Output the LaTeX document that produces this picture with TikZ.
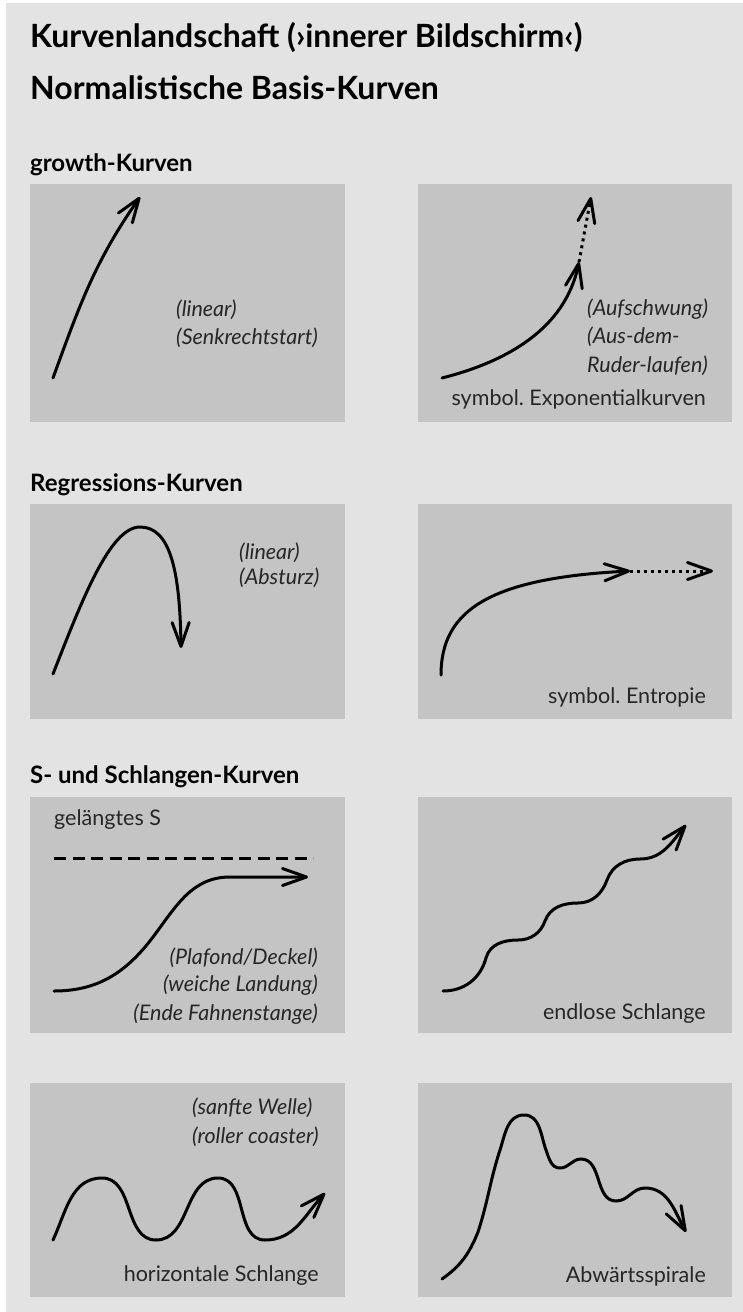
\documentclass[tikz,border=0pt]{standalone}
\usepackage{fontspec}
\setmainfont{Lato}
\usetikzlibrary{arrows.meta}
\frenchspacing
\definecolor{pagegray}{HTML}{E3E3E3}
\definecolor{boxgray}{HTML}{C4C4C4}
\definecolor{inkgray}{HTML}{262626}
\tikzset{
  kurve/.style={line width=3pt, line cap=round,
    -{Straight Barb[length=24pt,width=17pt,line cap=round,line join=round]}},
  punktkurve/.style={kurve, line cap=butt, dash pattern=on 3pt off 4pt},
  kasten/.style={fill=boxgray},
  titel/.style={font=\bfseries\fontsize{32}{36}\selectfont, anchor=west, inner sep=0pt},
  rubrik/.style={font=\bfseries\fontsize{24}{28}\selectfont, anchor=west, inner sep=0pt},
  notiz/.style={font=\itshape\fontsize{21.5}{25}\selectfont, text=inkgray, inner sep=0pt},
  unterschrift/.style={font=\fontsize{21.5}{25}\selectfont, text=inkgray, anchor=east, inner sep=0pt},
}
\begin{document}
\begin{tikzpicture}[x=1pt,y=1pt]
\fill[white] (0,0) rectangle (743,-1312);
\fill[pagegray] (6,-3) rectangle (743,-1312);

% Ueberschriften
\node[titel] (t1) at (30,-37) {Kurvenlandschaft (›innerer Bildschirm‹)};
\node[titel] (t2) at (30,-88) {Normalistische Basis-Kurven};

% growth-Kurven
\node[rubrik] (r1) at (30,-165) {growth-Kurven};
\fill[kasten] (30,-184) rectangle (345,-422);
\fill[kasten] (418,-184) rectangle (732,-422);
\draw[kurve] (53,-378) to[out=70,in=235] (140,-197);
\node[notiz,anchor=west] (n1) at (176,-310) {(linear)};
\node[notiz,anchor=west] (n2) at (176,-338) {(Senkrechtstart)};
\draw[kurve] (442,-378) .. controls (505,-362) and (565,-330) .. (579,-262);
\draw[punktkurve] (579,-262) -- (591,-197);
\node[notiz,anchor=west] (n3) at (587,-309) {(Aufschwung)};
\node[notiz,anchor=west] (n4) at (587,-337) {(Aus-dem-};
\node[notiz,anchor=west] (n5) at (587,-366) {Ruder-laufen)};
\node[unterschrift] (u1) at (706,-399) {symbol. Exponentialkurven};

% Regressions-Kurven
\node[rubrik] (r2) at (30,-485) {Regressions-Kurven};
\fill[kasten] (30,-504) rectangle (345,-719);
\fill[kasten] (418,-504) rectangle (732,-719);
\draw[kurve] (53,-674) .. controls (82,-600) and (110,-527) .. (140,-527)
  .. controls (170,-527) and (180,-570) .. (181,-648);
\node[notiz,anchor=west] (n6) at (239,-553) {(linear)};
\node[notiz,anchor=west] (n7) at (239,-578) {(Absturz)};
\draw[kurve] (441,-675) .. controls (441,-610) and (490,-578) .. (630,-571);
\draw[punktkurve] (630,-571) -- (713,-571);
\node[unterschrift] (u2) at (706,-697) {symbol. Entropie};

% S- und Schlangen-Kurven
\node[rubrik] (r3) at (30,-777) {S- und Schlangen-Kurven};
\fill[kasten] (30,-797) rectangle (345,-1033);
\fill[kasten] (418,-797) rectangle (732,-1033);
\node[unterschrift,anchor=west] (u3) at (54,-820) {gelängtes S};
\draw[line width=3pt, dash pattern=on 12pt off 6.5pt] (54,-858) -- (313,-858);
\draw[kurve] (54,-991) to[out=0,in=233] (153,-937) to[out=53,in=180] (230,-877) -- (308,-877);
\node[notiz,anchor=east] (n8) at (318,-958) {(Plafond/Deckel)};
\node[notiz,anchor=east] (n9) at (318,-985) {(weiche Landung)};
\node[notiz,anchor=east] (n10) at (318,-1014) {(Ende Fahnenstange)};
\draw[kurve] (443,-991) to[out=0,in=255] (486,-958) to[out=75,in=180] (518,-940)
  to[out=0,in=250] (545,-921) to[out=70,in=180] (578,-903)
  to[out=0,in=250] (607,-880) to[out=70,in=180] (640,-859)
  to[out=0,in=230] (686,-825);
\node[unterschrift] (u4) at (706,-1014) {endlose Schlange};

% untere Reihe
\fill[kasten] (30,-1083) rectangle (345,-1297);
\fill[kasten] (418,-1083) rectangle (732,-1297);
\node[notiz,anchor=west] (n11) at (192,-1108) {(sanfte Welle)};
\node[notiz,anchor=west] (n12) at (192,-1137) {(roller coaster)};
\draw[kurve] (53,-1240) to[out=65,in=180] (102,-1178) to[out=0,in=180] (156,-1240)
  to[out=0,in=180] (218,-1178) to[out=0,in=180] (265,-1240)
  to[out=0,in=227] (325,-1193);
\node[unterschrift] (u5) at (319,-1276) {horizontale Schlange};
\draw[kurve] (442,-1279) to[out=35,in=248] (478,-1232) to[out=72,in=252] (500,-1150)
  to[out=72,in=180] (524,-1115) to[out=0,in=110] (546,-1150)
  to[out=-70,in=180] (560,-1168) to[out=0,in=180] (581,-1159)
  to[out=0,in=180] (616,-1201) to[out=0,in=180] (645,-1188)
  to[out=0,in=119] (686,-1232);
\node[unterschrift] (u6) at (706,-1276) {Abwärtsspirale};
\end{tikzpicture}
\end{document}
